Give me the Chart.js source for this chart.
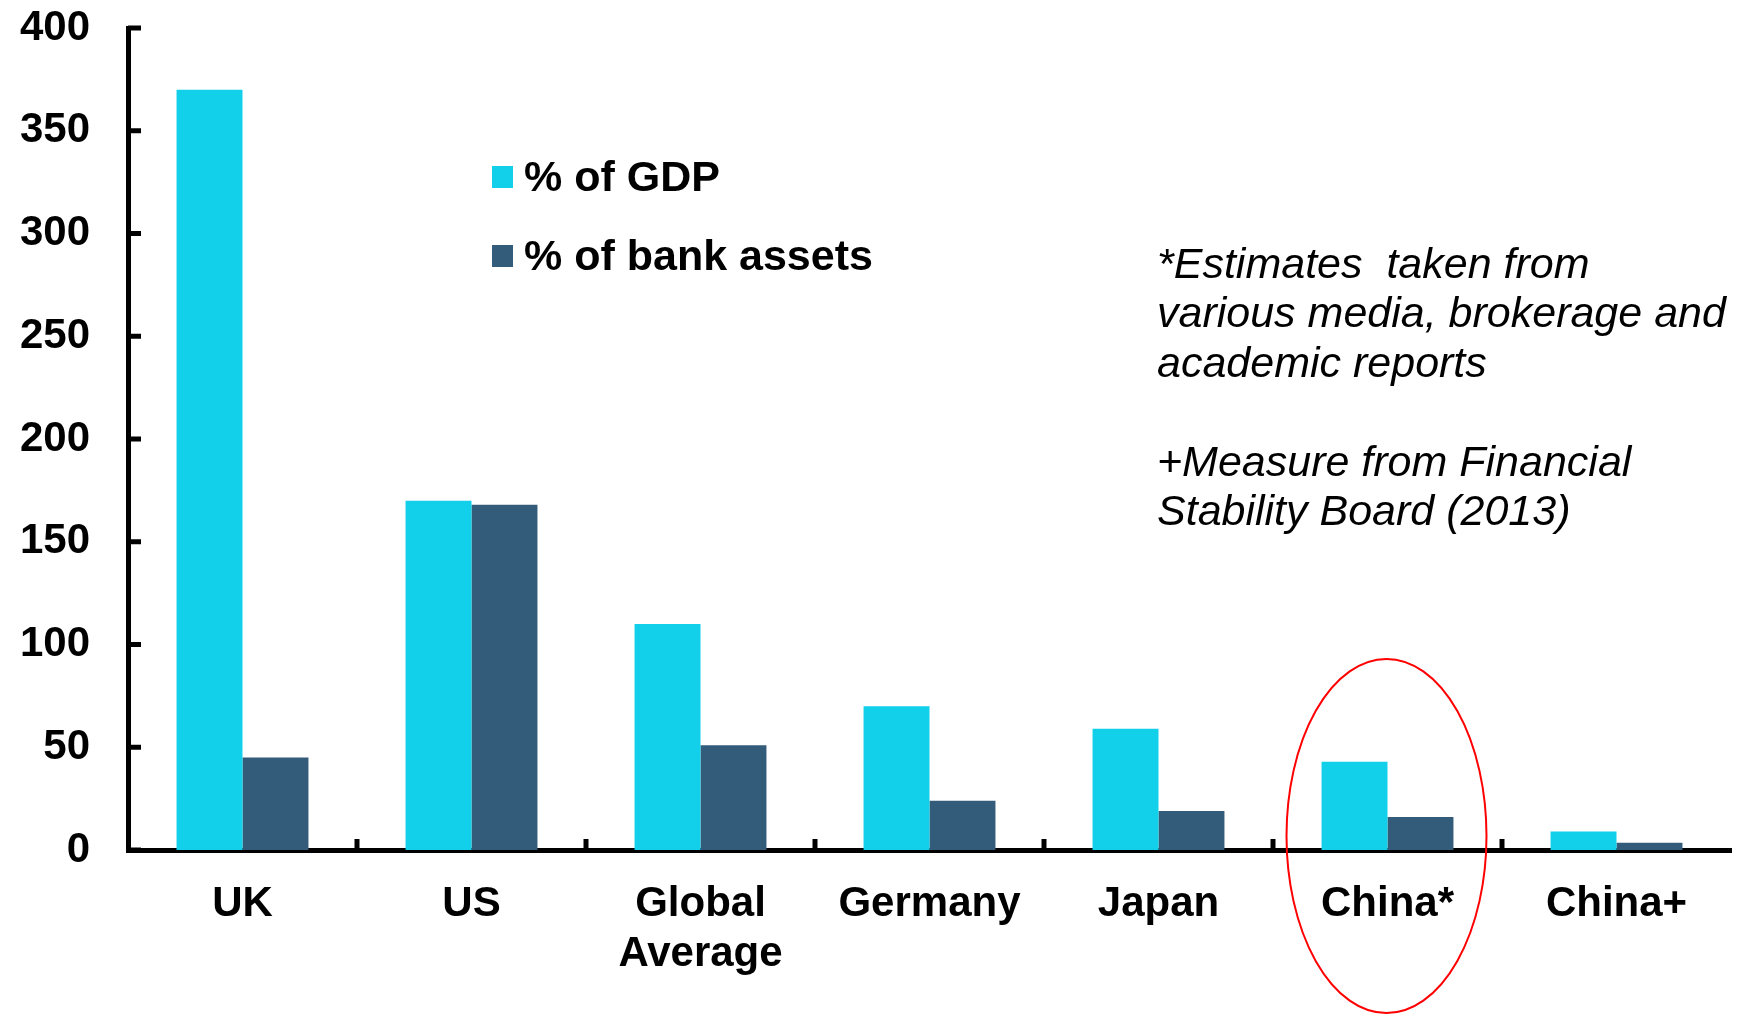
<!DOCTYPE html>
<html>
<head>
<meta charset="utf-8">
<script src="https://cdn.jsdelivr.net/npm/chart.js@4/dist/chart.umd.min.js"></script>
<style>
  body { margin: 0; background: #fff; }
  #wrap { width: 1742px; height: 1014px; }
</style>
</head>
<body>
<div id="wrap"><canvas id="shadowChart"></canvas></div>
<script>
const countries = ['UK', 'US', ['Global', 'Average'], 'Germany', 'Japan', 'China*', 'China+'];
const pctOfGdp = [370, 170, 110, 70, 59, 43, 9];
const pctOfBankAssets = [45, 168, 51, 24, 19, 16, 3.5];
const seriesNames = ['% of GDP', '% of bank assets'];
const noteLines = ['*Estimates  taken from', 'various media, brokerage and', 'academic reports', '', '+Measure from Financial', 'Stability Board (2013)'];

const FONT = "'Liberation Sans', Arial, sans-serif";
const CYAN = '#13D0EA';
const NAVY = '#335C7A';

// legend, footnotes, inward tick marks and the red ring around China*
const extras = {
  id: 'extras',
  afterDraw(chart) {
    const ctx = chart.ctx;
    const x = chart.scales.x;
    const y = chart.scales.y;
    const area = chart.chartArea;
    ctx.save();

    // y ticks pointing into the plot
    ctx.strokeStyle = '#000';
    ctx.lineWidth = 5;
    y.ticks.forEach(t => {
      const py = y.getPixelForValue(t.value);
      ctx.beginPath();
      ctx.moveTo(area.left, py);
      ctx.lineTo(area.left + 13, py);
      ctx.stroke();
    });
    // x ticks between categories, pointing up
    for (let i = 1; i < countries.length; i++) {
      const px = (x.getPixelForValue(i - 1) + x.getPixelForValue(i)) / 2;
      ctx.beginPath();
      ctx.moveTo(px, area.bottom);
      ctx.lineTo(px, area.bottom - 11);
      ctx.stroke();
    }

    // legend
    ctx.font = 'bold 43px ' + FONT;
    ctx.textBaseline = 'middle';
    ctx.textAlign = 'left';
    chart.data.datasets.forEach((ds, i) => {
      const cy = 177 + i * 79;
      ctx.fillStyle = ds.backgroundColor;
      ctx.fillRect(492, cy - 11, 21, 22);
      ctx.fillStyle = '#000';
      ctx.fillText(ds.label, 524, cy + 2);
    });

    // footnotes
    ctx.font = 'italic 43px ' + FONT;
    noteLines.forEach((line, i) => {
      ctx.fillText(line, 1157, 266 + i * 49.5);
    });

    // red ellipse around China*
    ctx.strokeStyle = '#FF0000';
    ctx.lineWidth = 2;
    ctx.beginPath();
    ctx.ellipse(x.getPixelForValue(5) - 1, 836, 100, 177, 0, 0, Math.PI * 2);
    ctx.stroke();

    ctx.restore();
  }
};

Chart.defaults.font.family = FONT;
Chart.defaults.color = '#000';

new Chart(document.getElementById('shadowChart'), {
  type: 'bar',
  data: {
    labels: countries,
    datasets: [
      { label: seriesNames[0], data: pctOfGdp, backgroundColor: CYAN },
      { label: seriesNames[1], data: pctOfBankAssets, backgroundColor: NAVY }
    ]
  },
  options: {
    responsive: true,
    maintainAspectRatio: false,
    animation: false,
    datasets: { bar: { barPercentage: 1, categoryPercentage: 0.576 } },
    layout: { padding: { top: 28, right: 11, left: 0, bottom: 0 } },
    plugins: { legend: { display: false }, tooltip: { enabled: false } },
    scales: {
      x: {
        grid: { display: false, drawTicks: false },
        border: { display: true, color: '#000', width: 5 },
        ticks: { font: { size: 42, weight: 'bold', lineHeight: 1.2 }, padding: 29, maxRotation: 0, autoSkip: false },
        afterFit(scale) { scale.height = 164; scale.paddingLeft = 0; scale.paddingRight = 0; }
      },
      y: {
        min: 0,
        max: 400,
        grid: { display: false, drawTicks: false },
        border: { display: true, color: '#000', width: 5 },
        ticks: { stepSize: 50, font: { size: 42, weight: 'bold' }, padding: 38 },
        afterFit(scale) { scale.width = 128; scale.paddingTop = 0; scale.paddingBottom = 0; }
      }
    }
  },
  plugins: [extras]
});
</script>
</body>
</html>
